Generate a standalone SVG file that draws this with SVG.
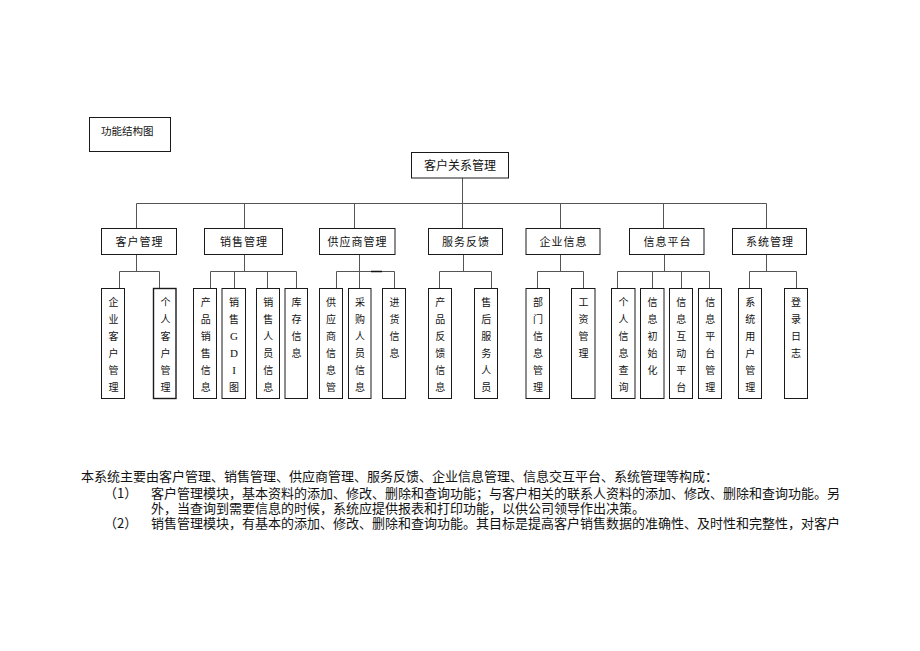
<svg xmlns="http://www.w3.org/2000/svg" width="920" height="651" viewBox="0 0 920 651">
<style>
.bg{fill:#fff}
.box{fill:#fff;stroke:#1a1a1a;stroke-width:1}
.conn{fill:none;stroke:#555;stroke-width:1}
.t{font-family:"Noto Sans CJK SC","Noto Sans CJK JP",sans-serif;fill:#111}
.l2{font-size:11px;letter-spacing:1px;text-anchor:middle}
.leaf{font-size:10px;text-anchor:middle}
.para{font-size:13px}
.lat{font-family:"Liberation Serif",serif;font-size:11px}
</style>
<rect class="bg" x="0" y="0" width="920" height="651"/>
<g id="connectors">
<path class="conn" d="M462.5 178 V228.5 M136.5 203.5 H766.5 M136.5 203.5 V228.5 M244.5 203.5 V228.5 M354.5 203.5 V228.5 M560.5 203.5 V228.5 M663.5 203.5 V228.5 M766.5 203.5 V228.5"/>
<path class="conn" d="M136.5 254.5 V271.5 M119.5 288.5 V271.5 H159.5 V288.5"/>
<path class="conn" d="M244.5 254.5 V271.5 M210.5 288.5 V271.5 H296.5 V288.5 M234.5 271.5 V288.5 M267.5 271.5 V288.5"/>
<path class="conn" d="M359.5 254.5 V288.5 M336.5 288.5 V271.5 H394.5 V288.5"/>
<path class="conn" d="M371 271.5 H382" style="stroke:#111;stroke-width:1.5"/>
<path class="conn" d="M463.5 254.5 V271.5 M439.5 288.5 V271.5 H491.5 V288.5"/>
<path class="conn" d="M560.5 254.5 V271.5 M537.5 288.5 V271.5 H583.5 V288.5"/>
<path class="conn" d="M664.5 254.5 V271.5 M617.5 288.5 V271.5 H709.5 V288.5 M652.5 271.5 V288.5 M681.5 271.5 V288.5"/>
<path class="conn" d="M766.5 254.5 V271.5 M749.5 288.5 V271.5 H796.5 V288.5"/>
</g>
<g id="title">
<rect class="box" x="89.5" y="117.5" width="81" height="34"/>
<text class="t" x="101" y="134.5" font-size="10.5">功能结构图</text>
</g>
<g id="root">
<rect class="box" x="411.5" y="152.5" width="97" height="25.5"/>
<text class="t" x="460" y="170" font-size="12" text-anchor="middle">客户关系管理</text>
</g>
<g id="n-kehu"><rect class="box" x="101.5" y="228.5" width="75" height="26"/><text class="t l2" x="139.5" y="245.5">客户管理</text></g>
<g id="n-xiaoshou"><rect class="box" x="204.5" y="228.5" width="78" height="26"/><text class="t l2" x="244" y="245.5">销售管理</text></g>
<g id="n-gongying"><rect class="box" x="319.5" y="228.5" width="75.5" height="26"/><text class="t l2" x="357.5" y="245.5">供应商管理</text></g>
<g id="n-fuwu"><rect class="box" x="428.5" y="228.5" width="74" height="26"/><text class="t l2" x="466" y="245.5">服务反馈</text></g>
<g id="n-qiye"><rect class="box" x="526" y="228.5" width="74" height="26"/><text class="t l2" x="563.5" y="245.5">企业信息</text></g>
<g id="n-pingtai"><rect class="box" x="629.5" y="228.5" width="74.5" height="26"/><text class="t l2" x="667.5" y="245.5">信息平台</text></g>
<g id="n-xitong"><rect class="box" x="732.5" y="228.5" width="74" height="26"/><text class="t l2" x="770" y="245.5">系统管理</text></g>

<g id="leaf1"><rect class="box" x="101.5" y="288.5" width="23" height="110"/><text class="t leaf"><tspan x="113.5" y="306.3">企</tspan><tspan x="113.5" y="323.2">业</tspan><tspan x="113.5" y="340.1">客</tspan><tspan x="113.5" y="357">户</tspan><tspan x="113.5" y="373.9">管</tspan><tspan x="113.5" y="390.8">理</tspan></text></g>
<g id="leaf2"><rect class="box" x="153.5" y="288.5" width="22.5" height="110" style="stroke-width:1.4"/><text class="t leaf"><tspan x="165.5" y="306.3">个</tspan><tspan x="165.5" y="323.2">人</tspan><tspan x="165.5" y="340.1">客</tspan><tspan x="165.5" y="357">户</tspan><tspan x="165.5" y="373.9">管</tspan><tspan x="165.5" y="390.8">理</tspan></text></g>
<g id="leaf3"><rect class="box" x="193.5" y="288.5" width="23" height="110"/><text class="t leaf"><tspan x="205.8" y="306.3">产</tspan><tspan x="205.8" y="323.2">品</tspan><tspan x="205.8" y="340.1">销</tspan><tspan x="205.8" y="357">售</tspan><tspan x="205.8" y="373.9">信</tspan><tspan x="205.8" y="390.8">息</tspan></text></g>
<g id="leaf4"><rect class="box" x="222" y="288.5" width="23.5" height="110"/><text class="t leaf"><tspan x="234" y="306.3">销</tspan><tspan x="234" y="323.2">售</tspan><tspan class="lat" x="234" y="340.1">G</tspan><tspan class="lat" x="234" y="357">D</tspan><tspan class="lat" x="234" y="373.9">I</tspan><tspan x="234" y="390.8">图</tspan></text></g>
<g id="leaf5"><rect class="box" x="256.5" y="288.5" width="23" height="110"/><text class="t leaf"><tspan x="268.3" y="306.3">销</tspan><tspan x="268.3" y="323.2">售</tspan><tspan x="268.3" y="340.1">人</tspan><tspan x="268.3" y="357">员</tspan><tspan x="268.3" y="373.9">信</tspan><tspan x="268.3" y="390.8">息</tspan></text></g>
<g id="leaf6"><rect class="box" x="285" y="288.5" width="22.5" height="110"/><text class="t leaf"><tspan x="296.5" y="306.3">库</tspan><tspan x="296.5" y="323.2">存</tspan><tspan x="296.5" y="340.1">信</tspan><tspan x="296.5" y="357">息</tspan></text></g>
<g id="leaf7"><rect class="box" x="319.5" y="288.5" width="23" height="110"/><text class="t leaf"><tspan x="331" y="306.3">供</tspan><tspan x="331" y="323.2">应</tspan><tspan x="331" y="340.1">商</tspan><tspan x="331" y="357">信</tspan><tspan x="331" y="373.9">息</tspan><tspan x="331" y="390.8">管</tspan></text></g>
<g id="leaf8"><rect class="box" x="348.5" y="288.5" width="22.5" height="110"/><text class="t leaf"><tspan x="360" y="306.3">采</tspan><tspan x="360" y="323.2">购</tspan><tspan x="360" y="340.1">人</tspan><tspan x="360" y="357">员</tspan><tspan x="360" y="373.9">信</tspan><tspan x="360" y="390.8">息</tspan></text></g>
<g id="leaf9"><rect class="box" x="382.5" y="288.5" width="23" height="110"/><text class="t leaf"><tspan x="394.5" y="306.3">进</tspan><tspan x="394.5" y="323.2">货</tspan><tspan x="394.5" y="340.1">信</tspan><tspan x="394.5" y="357">息</tspan></text></g>
<g id="leaf10"><rect class="box" x="428.5" y="288.5" width="23" height="110"/><text class="t leaf"><tspan x="440.3" y="306.3">产</tspan><tspan x="440.3" y="323.2">品</tspan><tspan x="440.3" y="340.1">反</tspan><tspan x="440.3" y="357">馈</tspan><tspan x="440.3" y="373.9">信</tspan><tspan x="440.3" y="390.8">息</tspan></text></g>
<g id="leaf11"><rect class="box" x="474.5" y="288.5" width="23" height="110"/><text class="t leaf"><tspan x="486.3" y="306.3">售</tspan><tspan x="486.3" y="323.2">后</tspan><tspan x="486.3" y="340.1">服</tspan><tspan x="486.3" y="357">务</tspan><tspan x="486.3" y="373.9">人</tspan><tspan x="486.3" y="390.8">员</tspan></text></g>
<g id="leaf12"><rect class="box" x="526" y="288.5" width="23.5" height="110"/><text class="t leaf"><tspan x="538" y="306.3">部</tspan><tspan x="538" y="323.2">门</tspan><tspan x="538" y="340.1">信</tspan><tspan x="538" y="357">息</tspan><tspan x="538" y="373.9">管</tspan><tspan x="538" y="390.8">理</tspan></text></g>
<g id="leaf13"><rect class="box" x="571.5" y="288.5" width="23.5" height="110"/><text class="t leaf"><tspan x="583.5" y="306.3">工</tspan><tspan x="583.5" y="323.2">资</tspan><tspan x="583.5" y="340.1">管</tspan><tspan x="583.5" y="357">理</tspan></text></g>
<g id="leaf14"><rect class="box" x="611.5" y="288.5" width="23.5" height="110"/><text class="t leaf"><tspan x="623.5" y="306.3">个</tspan><tspan x="623.5" y="323.2">人</tspan><tspan x="623.5" y="340.1">信</tspan><tspan x="623.5" y="357">息</tspan><tspan x="623.5" y="373.9">查</tspan><tspan x="623.5" y="390.8">询</tspan></text></g>
<g id="leaf15"><rect class="box" x="640.5" y="288.5" width="23.5" height="110"/><text class="t leaf"><tspan x="652.5" y="306.3">信</tspan><tspan x="652.5" y="323.2">息</tspan><tspan x="652.5" y="340.1">初</tspan><tspan x="652.5" y="357">始</tspan><tspan x="652.5" y="373.9">化</tspan></text></g>
<g id="leaf16"><rect class="box" x="669.5" y="288.5" width="23" height="110"/><text class="t leaf"><tspan x="681.2" y="306.3">信</tspan><tspan x="681.2" y="323.2">息</tspan><tspan x="681.2" y="340.1">互</tspan><tspan x="681.2" y="357">动</tspan><tspan x="681.2" y="373.9">平</tspan><tspan x="681.2" y="390.8">台</tspan></text></g>
<g id="leaf17"><rect class="box" x="698.5" y="288.5" width="23" height="110"/><text class="t leaf"><tspan x="710.2" y="306.3">信</tspan><tspan x="710.2" y="323.2">息</tspan><tspan x="710.2" y="340.1">平</tspan><tspan x="710.2" y="357">台</tspan><tspan x="710.2" y="373.9">管</tspan><tspan x="710.2" y="390.8">理</tspan></text></g>
<g id="leaf18"><rect class="box" x="738.5" y="288.5" width="23" height="110"/><text class="t leaf"><tspan x="750.3" y="306.3">系</tspan><tspan x="750.3" y="323.2">统</tspan><tspan x="750.3" y="340.1">用</tspan><tspan x="750.3" y="357">户</tspan><tspan x="750.3" y="373.9">管</tspan><tspan x="750.3" y="390.8">理</tspan></text></g>
<g id="leaf19"><rect class="box" x="784.5" y="288.5" width="23" height="110"/><text class="t leaf"><tspan x="796" y="306.3">登</tspan><tspan x="796" y="323.2">录</tspan><tspan x="796" y="340.1">日</tspan><tspan x="796" y="357">志</tspan></text></g>

<g id="paragraph">
<text class="t para" x="81" y="480.5">本系统主要由客户管理、销售管理、供应商管理、服务反馈、企业信息管理、信息交互平台、系统管理等构成：</text>
<text class="t para" x="104" y="498">（1）</text>
<text class="t para" x="151" y="498">客户管理模块，基本资料的添加、修改、删除和查询功能；与客户相关的联系人资料的添加、修改、删除和查询功能。另</text>
<text class="t para" x="151" y="513">外，当查询到需要信息的时候，系统应提供报表和打印功能，以供公司领导作出决策。</text>
<text class="t para" x="104" y="527.5">（2）</text>
<text class="t para" x="151" y="527.5">销售管理模块，有基本的添加、修改、删除和查询功能。其目标是提高客户销售数据的准确性、及时性和完整性，对客户</text>
</g>
</svg>
